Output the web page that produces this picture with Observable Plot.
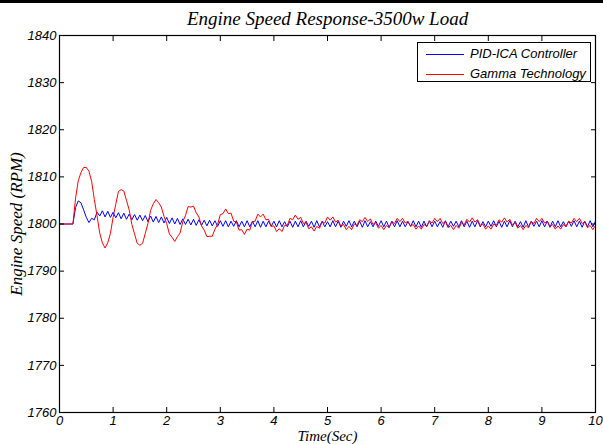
<!DOCTYPE html>
<html>
<head>
<meta charset="utf-8">
<script src="https://cdn.jsdelivr.net/npm/d3@7"></script>
<script src="https://cdn.jsdelivr.net/npm/@observablehq/plot@0.6"></script>
<style>
  html, body { margin: 0; padding: 0; background: #fff; }
  #wrap { position: relative; width: 603px; height: 444px; overflow: hidden; }
  #topbar { position: absolute; left: 0; top: 0; width: 603px; height: 3px; background: #000; }
  #legend { position: absolute; left: 417px; top: 42px; width: 172px; height: 38px; border: 1px solid #000; background: #fff;
            font-family: "Liberation Sans", Arial, sans-serif; font-style: italic; font-size: 13px; }
  .row { position: absolute; left: 0; height: 16px; line-height: 16px; white-space: nowrap; }
  .sw { position: absolute; left: 8px; top: 8px; width: 38px; height: 0; border-top: 1px solid; }
  .lab { position: absolute; left: 52px; top: 0; }
</style>
</head>
<body>
<div id="wrap">
  <div id="chart"></div>
  <div id="topbar"></div>
  <div id="legend"></div>
</div>
<script>
const titleText = "Engine Speed Response-3500w Load";
const xLabel = "Time(Sec)";
const yLabel = "Engine Speed (RPM)";
const seriesNames = ["PID-ICA Controller", "Gamma Technology"];
const seriesColors = ["#0000ff", "#ff0000"];
const xTicks = [0, 1, 2, 3, 4, 5, 6, 7, 8, 9, 10];
const yTicks = [1760, 1770, 1780, 1790, 1800, 1810, 1820, 1830, 1840];
const sampleStep = 0.05; // seconds between samples, starting at t = 0

const pidIca = [
 1800,1800,1800,1800,1800,1800,1803.5,1804.9,1804.5,1803.0,
 1801.4,1800.3,1801.2,1800.9,1802.5,1801.7,1802.8,1801.5,1802.7,1801.4,
 1802.5,1801.3,1802.4,1801.1,1802.3,1801.0,1802.1,1800.9,1802.0,1800.8,
 1801.9,1800.7,1801.8,1800.5,1801.7,1800.4,1801.6,1800.3,1801.5,1800.2,
 1801.4,1800.1,1801.3,1800.0,1801.2,1799.9,1801.1,1799.9,1801.0,1799.8,
 1801.0,1799.7,1800.9,1799.7,1800.8,1799.6,1800.8,1799.6,1800.7,1799.5,
 1800.7,1799.5,1800.7,1799.4,1800.6,1799.5,1800.7,1799.4,1800.6,1799.4,
 1800.7,1799.4,1800.6,1799.4,1800.7,1799.3,1800.6,1799.4,1800.6,1799.5,
 1800.6,1799.4,1800.7,1799.4,1800.5,1799.4,1800.6,1799.3,1800.6,1799.4,
 1800.7,1799.4,1800.6,1799.5,1800.6,1799.3,1800.7,1799.4,1800.6,1799.4,
 1800.5,1799.4,1800.7,1799.4,1800.6,1799.3,1800.6,1799.5,1800.7,1799.4,
 1800.6,1799.4,1800.6,1799.3,1800.7,1799.4,1800.5,1799.4,1800.6,1799.5,
 1800.7,1799.4,1800.6,1799.3,1800.6,1799.4,1800.7,1799.4,1800.6,1799.4,
 1800.5,1799.5,1800.7,1799.4,1800.6,1799.3,1800.6,1799.4,1800.7,1799.4,
 1800.6,1799.4,1800.5,1799.3,1800.7,1799.4,1800.6,1799.5,1800.6,1799.4,
 1800.7,1799.4,1800.6,1799.3,1800.6,1799.4,1800.7,1799.4,1800.5,1799.4,
 1800.6,1799.5,1800.7,1799.4,1800.6,1799.3,1800.6,1799.4,1800.7,1799.4,
 1800.6,1799.4,1800.5,1799.3,1800.7,1799.4,1800.6,1799.5,1800.6,1799.4,
 1800.7,1799.4,1800.6,1799.3,1800.6,1799.4,1800.7,1799.4,1800.5,1799.4,
 1800.6,1799.5,1800.7,1799.4,1800.6,1799.3,1800.6,1799.4,1800.7,1799.4,
 1800.6
];

const gamma = [
 1800,1800,1800,1800,1800,1800,1805.5,1809.2,1810.9,1812.0,
 1812.0,1811.2,1809.0,1805.2,1801.8,1798.1,1796.0,1794.9,1796.0,1798.0,
 1801.4,1804.2,1806.9,1807.3,1807.0,1805.0,1803.0,1799.9,1797.9,1795.9,
 1795.5,1795.9,1798.0,1800.1,1802.9,1804.3,1805.2,1804.5,1803.6,1801.6,
 1800.1,1797.9,1797.2,1796.3,1797.3,1798.1,1800.5,1801.8,1803.7,1803.6,
 1803.8,1802.4,1801.5,1799.6,1798.7,1797.3,1797.4,1797.4,1798.9,1799.9,
 1802.0,1802.2,1803.2,1802.2,1802.3,1800.6,1800.4,1798.7,1798.8,1797.8,
 1798.9,1798.7,1800.5,1800.6,1802.1,1801.5,1802.1,1800.9,1801.0,1799.5,
 1799.6,1798.4,1799.0,1798.4,1799.7,1799.7,1801.2,1800.9,1801.9,1801.0,
 1801.4,1800.1,1800.3,1799.0,1799.4,1798.5,1799.5,1799.1,1800.5,1800.2,
 1801.5,1800.8,1801.5,1800.4,1800.8,1799.5,1799.9,1798.8,1799.5,1798.8,
 1800.0,1799.7,1800.9,1800.5,1801.4,1800.5,1801.1,1799.9,1800.3,1799.1,
 1799.7,1798.8,1799.7,1799.2,1800.5,1800.1,1801.2,1800.5,1801.2,1800.2,
 1800.6,1799.5,1799.9,1798.9,1799.6,1798.9,1799.9,1799.5,1800.6,1800.2,
 1801.2,1800.5,1801.2,1800.1,1800.5,1799.2,1799.7,1798.8,1799.7,1799.1,
 1800.3,1799.8,1801.0,1800.4,1801.3,1800.4,1800.9,1799.7,1800.0,1798.9,
 1799.6,1798.9,1800.0,1799.7,1800.9,1800.4,1801.3,1800.4,1801.0,1799.8,
 1800.3,1799.1,1799.7,1798.8,1799.7,1799.2,1800.5,1800.1,1801.2,1800.5,
 1801.2,1800.2,1800.6,1799.5,1799.9,1798.9,1799.6,1798.9,1799.9,1799.5,
 1800.6,1800.2,1801.2,1800.5,1801.2,1800.1,1800.5,1799.2,1799.7,1798.8,
 1799.7
];

const toRows = (arr) => arr.map((v, i) => ({t: i * sampleStep, v}));
const blueData = toRows(pidIca);
const redData = toRows(gamma);

const tickLen = 5;
const tickFont = {fontFamily: "Liberation Sans, Arial, sans-serif", fontStyle: "italic", fontSize: 13, fill: "#000"};
const serif = {fontFamily: "Liberation Serif, Times New Roman, serif", fontStyle: "italic", fill: "#000"};
const plain = (d) => String(d);
const blank = () => "";
const tickOnly = {tickSize: tickLen, tickFormat: blank, label: null, stroke: "#000", strokeWidth: 1};

const chart = Plot.plot({
  width: 603,
  height: 444,
  marginLeft: 59,
  marginRight: 8,
  marginTop: 35,
  marginBottom: 32,
  style: {background: "#fff", color: "#000", overflow: "visible"},
  x: {domain: [0, 10]},
  y: {domain: [1760, 1840]},
  marks: [
    Plot.line(blueData, {x: "t", y: "v", stroke: seriesColors[0], strokeWidth: 1}),
    Plot.line(redData, {x: "t", y: "v", stroke: seriesColors[1], strokeWidth: 1}),
    // inward tick marks on all four sides
    Plot.axisX(xTicks, {anchor: "bottom", dy: -tickLen, ...tickOnly}),
    Plot.axisX(xTicks, {anchor: "top", dy: tickLen, ...tickOnly}),
    Plot.axisY(yTicks, {anchor: "left", dx: tickLen, ...tickOnly}),
    Plot.axisY(yTicks, {anchor: "right", dx: -tickLen, ...tickOnly}),
    Plot.frame({stroke: "#000", strokeWidth: 1.2}),
    Plot.axisX(xTicks, {anchor: "bottom", tickSize: 0, tickPadding: 3, label: null, tickFormat: plain, ...tickFont}),
    Plot.axisY(yTicks, {anchor: "left", tickSize: 0, tickPadding: 3, label: null, tickFormat: plain, ...tickFont}),
    Plot.text([titleText], {frameAnchor: "top", dy: -17, fontSize: 19, lineAnchor: "middle", textAnchor: "middle", ...serif}),
    Plot.text([xLabel], {frameAnchor: "bottom", dy: 24, fontSize: 15, lineAnchor: "middle", textAnchor: "middle", ...serif}),
    Plot.text([yLabel], {frameAnchor: "left", dx: -43, rotate: -90, fontSize: 17, lineAnchor: "middle", textAnchor: "middle", ...serif})
  ]
});
document.getElementById("chart").appendChild(chart);

const legend = document.getElementById("legend");
seriesNames.forEach((name, i) => {
  const row = document.createElement("div");
  row.className = "row";
  row.style.top = (3 + i * 19.5) + "px";
  row.style.width = "100%";
  const sw = document.createElement("div");
  sw.className = "sw";
  sw.style.borderTopColor = seriesColors[i];
  const lab = document.createElement("div");
  lab.className = "lab";
  lab.textContent = name;
  row.appendChild(sw);
  row.appendChild(lab);
  legend.appendChild(row);
});
</script>
</body>
</html>
